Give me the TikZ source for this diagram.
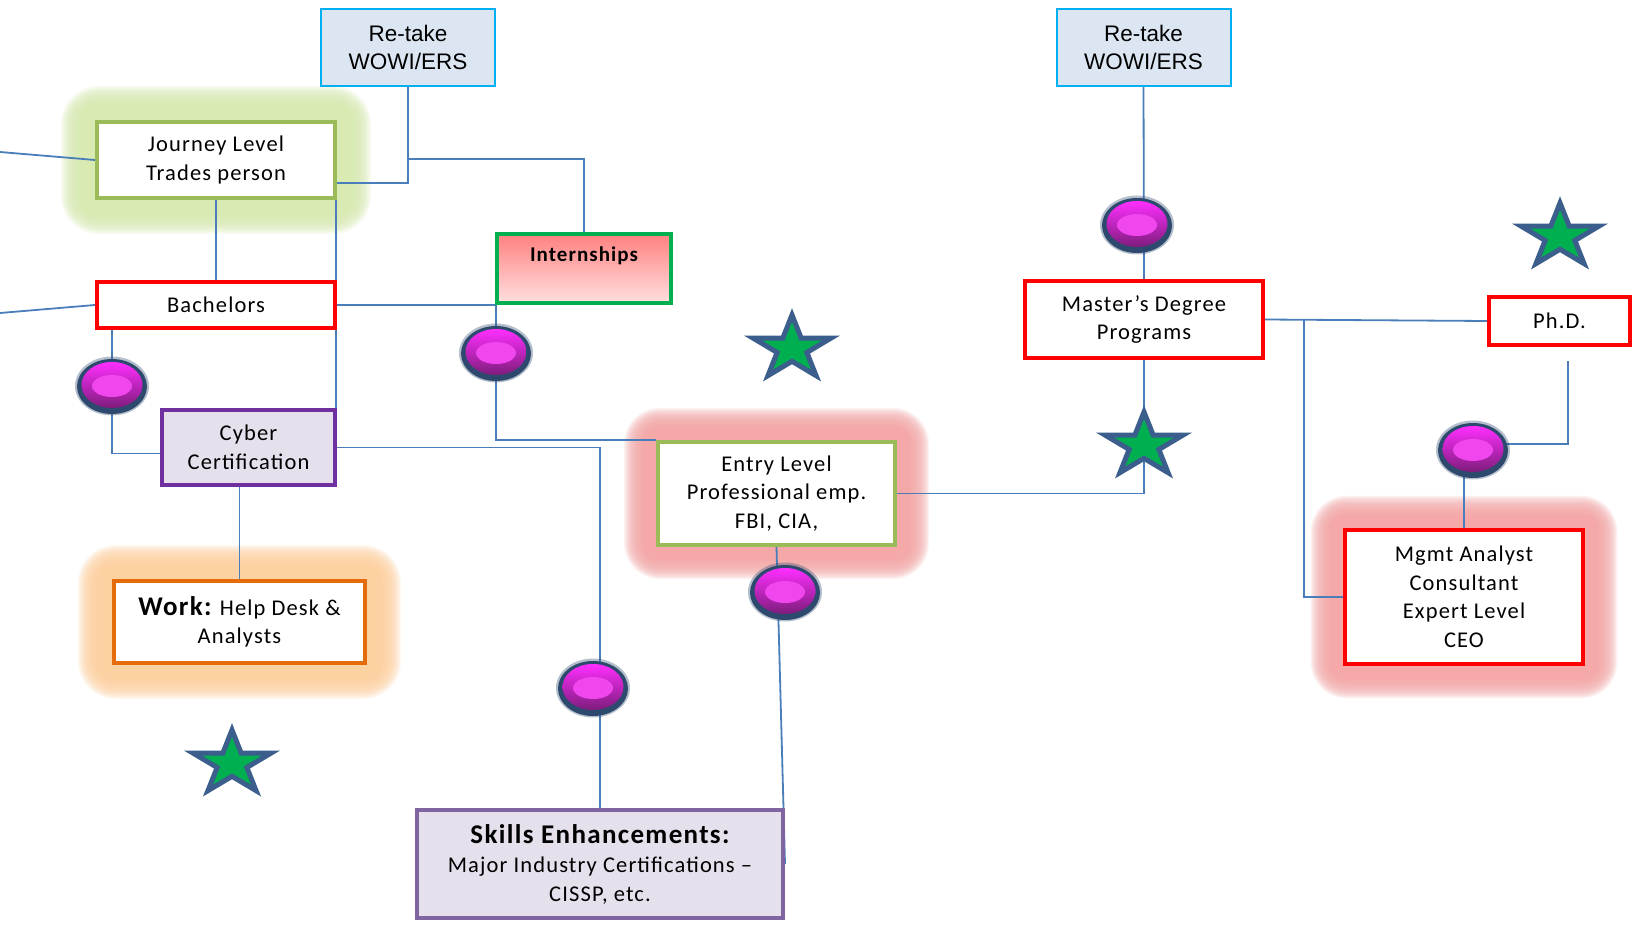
\documentclass[tikz,border=0pt]{standalone}
\usepackage{fontspec}
\setmainfont{Carlito}
\newfontfamily\boxfont[LetterSpace=5]{Carlito}
\newfontfamily\retakefont{Liberation Sans}
\usetikzlibrary{calc}

\definecolor{connblue}{HTML}{4A7EBB}
\definecolor{retakefill}{HTML}{DCE6F2}
\definecolor{retakeborder}{HTML}{00B0F0}
\definecolor{jgreen}{HTML}{9BBB59}
\definecolor{jglow}{HTML}{D9EBB2}
\definecolor{pinkglow}{HTML}{F4A8A8}
\definecolor{workorange}{HTML}{E46C0A}
\definecolor{orangeglow}{HTML}{FDD2A2}
\definecolor{cyberpurple}{HTML}{7030A0}
\definecolor{skillpurple}{HTML}{8064A2}
\definecolor{lavender}{HTML}{E6E0EC}
\definecolor{interngreen}{HTML}{00B050}
\definecolor{interntop}{HTML}{FF8080}
\definecolor{internbot}{HTML}{FFE0E0}
\definecolor{stargreen}{HTML}{00B050}
\definecolor{starblue}{HTML}{3B5E8C}
\definecolor{btnring}{HTML}{2D4A6E}
\definecolor{btntop}{HTML}{FF2EFF}
\definecolor{btnbot}{HTML}{7E1C7C}
\definecolor{btnhi}{HTML}{F046EE}

\pgfdeclarelayer{glowlayer}
\pgfdeclarelayer{linelayer}
\pgfsetlayers{glowlayer,linelayer,main}

\tikzset{
  conn/.style={draw=connblue, line width=1.8pt},
  box/.style={line width=4pt, fill=white, align=center, inner sep=0pt,
    font=\boxfont\fontsize{22.5}{28.5}\selectfont},
  retake/.style={draw=retakeborder, fill=retakefill, line width=2pt,
    minimum width=174pt, minimum height=77pt, align=center, inner sep=0pt,
    font=\retakefont\fontsize{22.5}{28}\selectfont},
  greenstar/.pic={
    \filldraw[fill=stargreen, draw=starblue, line width=5pt, line join=miter, xscale=1.22]
      (0,-33.5) -- (7.52,-10.36) -- (31.86,-10.35) -- (12.17,3.96) -- (19.69,27.10)
      -- (0,12.8) -- (-19.69,27.10) -- (-12.17,3.96) -- (-31.86,-10.35)
      -- (-7.52,-10.36) -- cycle;
  },
  button/.pic={
    \fill[btnring, opacity=0.35] (0,0) ellipse [x radius=37pt, y radius=29.5pt];
    \fill[btnring] (0,0.5) ellipse [x radius=35pt, y radius=27.5pt];
    \shade[top color=btntop, bottom color=btnbot] (0,-1) ellipse [x radius=30.5pt, y radius=23pt];
    \fill[btnhi] (0,0) ellipse [x radius=20pt, y radius=11pt];
  }
}

% soft halo behind a box: #1 node, #2 colour, #3 reach
\newcommand{\haloaround}[3]{%
  \foreach \k in {0,...,15}{%
    \pgfmathsetmacro{\gd}{#3-1.2*\k}%
    \pgfmathsetmacro{\gr}{\gd+4}%
    \fill[#2, opacity=0.15, rounded corners=\gr pt]
      ($(#1.south west)+(-\gd,\gd)$) rectangle ($(#1.north east)+(\gd,-\gd)$);
  }%
  \pgfmathsetmacro{\gd}{#3-19}%
  \fill[#2, rounded corners=\gd pt]
    ($(#1.south west)+(-\gd,\gd)$) rectangle ($(#1.north east)+(\gd,-\gd)$);
}

\begin{document}
\begin{tikzpicture}[x=1pt, y=-1pt]
\useasboundingbox (0,0) rectangle (1632,925);
\clip (0,0) rectangle (1632,925);

% ---- boxes ----
\node[retake] (retakeA) at (408,47.5) {Re-take\\WOWI/ERS};
\node[retake] (retakeB) at (1143.5,47.5) {Re-take\\WOWI/ERS};

\node[box, draw=jgreen, minimum width=238pt, minimum height=76pt] (journey) at (216,160)
  {Journey Level\\Trades person};
\node[box, draw=red, minimum width=238pt, minimum height=46pt] (bachelors) at (216,305)
  {Bachelors};
\node[box, draw=cyberpurple, fill=lavender, minimum width=173pt, minimum height=75pt] (cyber)
  at (248.5,447.5) {Cyber\\Certification};
\node[box, draw=workorange, minimum width=251pt, minimum height=82pt] (work) at (239.5,622)
  {{\fontsize{27}{28.5}\selectfont\bfseries Work:} Help Desk \&\\Analysts};
\node[box, draw=interngreen, top color=interntop, bottom color=internbot,
  minimum width=174pt, minimum height=69pt] (intern) at (584,268.5) {};
\node[font=\boxfont\bfseries\fontsize{21}{24}\selectfont] (interntext) at (584,256) {Internships};
\node[box, draw=jgreen, minimum width=237pt, minimum height=103pt] (entry) at (776.5,493.5)
  {Entry Level\\Professional emp.\\FBI, CIA,};
\node[box, draw=skillpurple, fill=lavender, minimum width=366pt, minimum height=108pt] (skills)
  at (600,864)
  {{\fontsize{27}{30}\selectfont\bfseries Skills Enhancements:}\\[1pt]
   Major Industry Certifications –\\CISSP, etc.};
\node[box, draw=red, minimum width=238pt, minimum height=77pt] (masters) at (1144,319.5)
  {Master’s Degree\\Programs};
\node[box, draw=red, minimum width=141pt, minimum height=48pt] (phd) at (1559.5,321) {Ph.D.};
\node[box, draw=red, line width=4.5pt, minimum width=238pt, minimum height=134pt] (mgmt)
  at (1464,597) {Mgmt Analyst\\Consultant\\Expert Level\\CEO};

% ---- halos ----
\begin{pgfonlayer}{glowlayer}
  \fill[white] (0,0) rectangle (1632,925);
  \haloaround{journey}{jglow}{34}
  \haloaround{work}{orangeglow}{34}
  \haloaround{entry}{pinkglow}{32}
  \haloaround{mgmt}{pinkglow}{32}
\end{pgfonlayer}

% ---- junction points ----
\coordinate (edgeA) at (0,152);
\coordinate (edgeB) at (0,313);
\coordinate (ra1) at (408,159);
\coordinate (ra2) at (336,183);
\coordinate (mb) at (1304,320);
\coordinate (pd) at (1568,361);
\coordinate (e1) at (112,386);
\coordinate (e2) at (496,353);
\coordinate (e3) at (1137,225);
\coordinate (e4) at (785,592);
\coordinate (e5) at (593,688);
\coordinate (e6) at (1473,450);
\coordinate (e6r) at (1473,444);

% ---- connectors ----
\begin{pgfonlayer}{linelayer}
  \draw[conn] (edgeA) -- (journey.west);
  \draw[conn] (edgeB) -- (bachelors.west);
  \draw[conn] (journey.south) -- (bachelors.north);
  \draw[conn] (retakeA.south) |- (ra2) -- (ra2 |- cyber.north);
  \draw[conn] (ra1) -| (intern.north);
  \draw[conn] (bachelors.east) -| (e2) |- (entry.north west);
  \draw[conn] (bachelors.south -| e1) -- (e1) |- ([yshift=-6pt]cyber.west);
  \draw[conn] (cyber.east) -| (skills.north);
  \draw[conn] (work.north |- cyber.south) -- (work.north);
  \draw[conn] (entry.south) -- (skills.east);
  \draw[conn] (entry.east) -| (masters.south);
  \draw[conn] (retakeB.south) -- (masters.north);
  \draw[conn] (masters.east) -- (phd.west);
  \draw[conn] (mb) |- (mgmt.west);
  \draw[conn] (pd) |- (e6r);
  \draw[conn] (mgmt.north |- e6) -- (mgmt.north);
\end{pgfonlayer}

% ---- buttons ----
\pic at (e1) {button};
\pic at (e2) {button};
\pic at (e3) {button};
\pic at (e4) {button};
\pic at (e5) {button};
\pic at (e6) {button};

% ---- stars ----
\pic (starA) at (792,348.5) {greenstar};
\pic (starB) at (1560,236.5) {greenstar};
\pic (starM) at (1144,445.5) {greenstar};
\pic (starC) at (232,763.5) {greenstar};
\end{tikzpicture}
\end{document}
